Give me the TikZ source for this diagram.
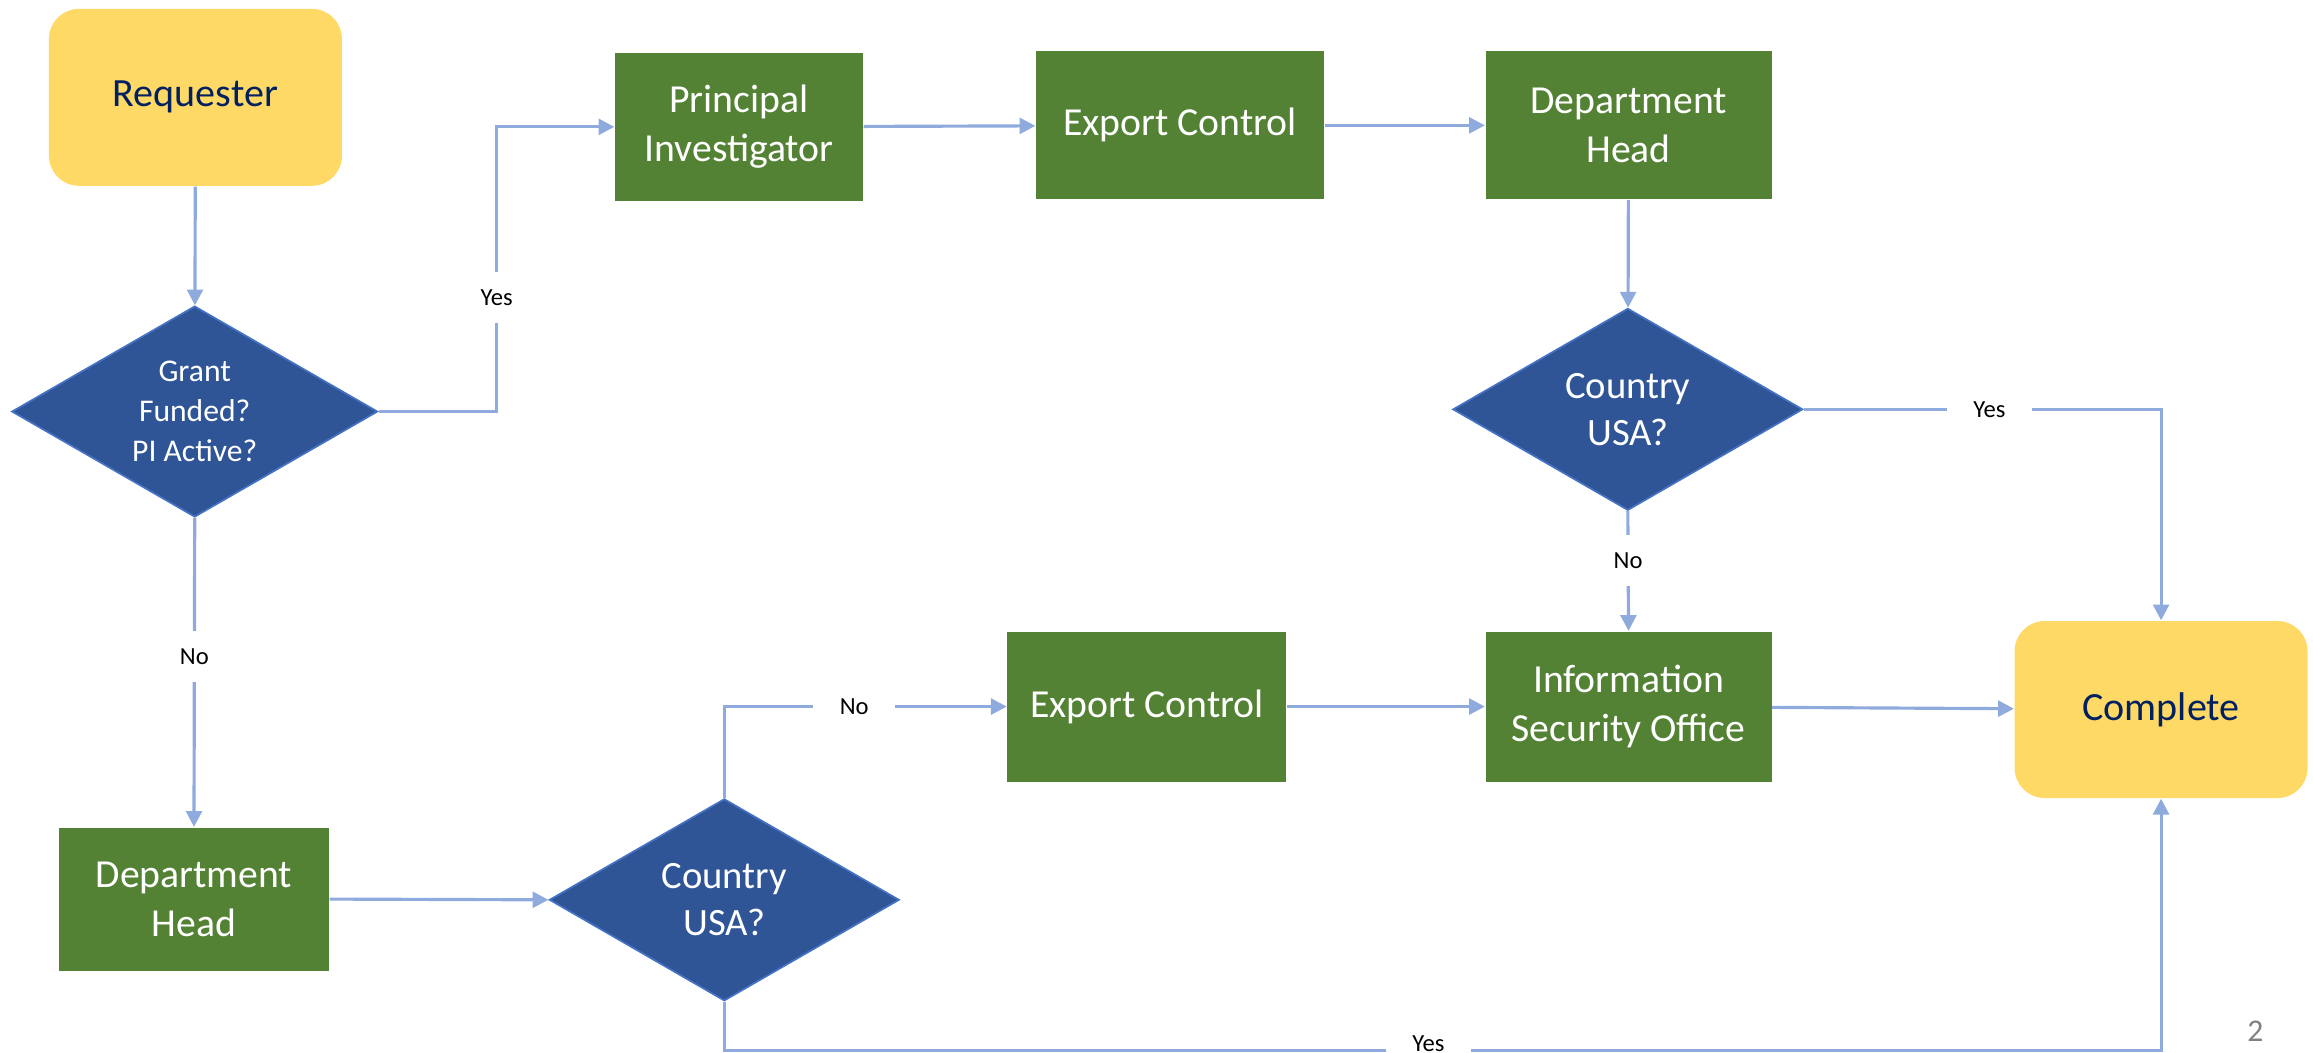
\documentclass[tikz,border=0pt]{standalone}
\usepackage{fontspec}
\setmainfont{Carlito}
\usetikzlibrary{shapes.geometric, arrows.meta}
\definecolor{startyellow}{HTML}{FFD966}
\definecolor{stepgreen}{HTML}{548235}
\definecolor{askblue}{HTML}{2F5597}
\definecolor{askrim}{HTML}{4472C4}
\definecolor{flowblue}{HTML}{8FAADC}
\definecolor{navytext}{HTML}{002060}

\begin{document}
\begin{tikzpicture}[x=0.014751cm, y=-0.014751cm,
  ends/.style={rectangle, rounded corners=0.3cm, fill=startyellow, text=navytext, align=center,
    font=\fontsize{11.4}{14}\selectfont, minimum width=2.93cm, minimum height=1.77cm},
  task/.style={rectangle, fill=stepgreen, text=white, align=center,
    font=\fontsize{11.3}{14}\selectfont, minimum height=1.48cm},
  ask/.style={diamond, aspect=1.72, draw=askrim, line width=0.5pt, fill=askblue, text=white,
    align=center, inner sep=0pt, minimum width=3.5cm, minimum height=2.02cm,
    font=\fontsize{11}{13.4}\selectfont},
  flow/.style={draw=flowblue, line width=0.9pt, -{Triangle[width=4.5pt,length=4.5pt]}},
  lbl/.style={fill=white, text=black, font=\fontsize{7}{8}\selectfont, inner xsep=7.5pt, inner ysep=5pt}]
\useasboundingbox (0,0) rectangle (1568,713.8);

% left column
\node[ends] (req) at (132.5,66) {Requester};
\node[ask, minimum width=3.66cm, minimum height=2.11cm, font=\fontsize{9}{11.3}\selectfont] (grant) at (132,279) {Grant\\Funded?\\PI Active?};
\node[task, minimum width=2.70cm, minimum height=1.43cm] (dhlow) at (131.5,609.5) {Department\\Head};

% top row
\node[task, minimum width=2.48cm] (pi) at (501,86) {Principal\\Investigator};
\node[task, minimum width=2.88cm] (ectop) at (800,85) {Export Control};
\node[task, minimum width=2.86cm] (dhtop) at (1104,85) {Department\\Head};
\node[ask] (usatop) at (1103.5,277.5) {Country\\USA?};

% bottom row
\node[ask] (usalow) at (491,610) {Country\\USA?};
\node[task, minimum width=2.79cm, minimum height=1.50cm] (eclow) at (777.5,479) {Export Control};
\node[task, minimum width=2.86cm, minimum height=1.50cm] (iso) at (1104,479) {Information\\Security Office};
\node[ends] (done) at (1465,481) {Complete};

\node[text=gray, font=\fontsize{9}{10}\selectfont] (pagenum) at (1529,699) {2};

% connectors
\draw[flow] (req) -- (grant);
\draw[flow] (grant.east) -- ++(80,0) |- node[lbl, pos=0.2] {Yes} (pi.west);
\draw[flow] (grant.south) -- node[lbl, pos=0.45] {No} (dhlow.north);
\draw[flow] (pi) -- (ectop);
\draw[flow] (ectop) -- (dhtop);
\draw[flow] (dhtop) -- (usatop);
\draw[flow] (usatop.east) -| node[lbl, pos=0.26] {Yes} (done.north);
\draw[flow] (usatop.south) -- node[lbl, pos=0.41] {No} (iso.north);
\draw[flow] (dhlow.east) -- (usalow.west);
\draw[flow] (usalow.north) |- node[lbl, pos=0.73] {No} (eclow.west);
\draw[flow] (eclow) -- (iso);
\draw[flow] (iso) -- (done);
\draw[flow] (usalow.south) -- ++(0,33) -| node[lbl, pos=0.245, yshift=2pt] {Yes} (done.south);
\end{tikzpicture}
\end{document}
